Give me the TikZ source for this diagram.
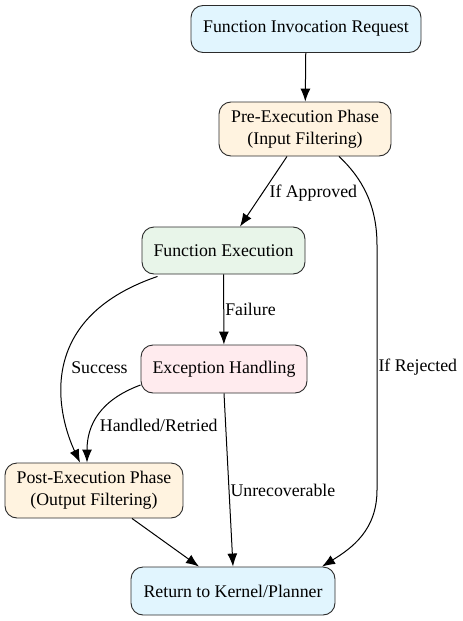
\documentclass[tikz,border=0pt]{standalone}
\usepackage{fontspec}
\setmainfont{Liberation Serif}
\usepackage{tikz}
\usetikzlibrary{arrows.meta, calc}

\definecolor{reqblue}{HTML}{E1F5FE}
\definecolor{phaseorange}{HTML}{FFF3E0}
\definecolor{execgreen}{HTML}{E8F5E9}
\definecolor{errpink}{HTML}{FFEBEE}
\definecolor{edgegray}{HTML}{2B2B2B}

\begin{document}
\begin{tikzpicture}[x=1pt, y=-1pt,
  stepbox/.style={draw=edgegray, line width=0.9pt, rounded corners=12pt, align=center, inner sep=0pt,
    font=\fontsize{17.8}{22}\selectfont},
  flow/.style={-{Latex[length=13pt, width=10pt]}, line width=1pt},
  lbl/.style={font=\fontsize{17.8}{20}\selectfont, inner sep=2pt}]
\useasboundingbox (0,0) rectangle (463,621);

% Nodes
\node[stepbox, fill=reqblue, minimum width=230, minimum height=47] (req) at (306,29) {Function Invocation Request};
\node[stepbox, fill=phaseorange, minimum width=172, minimum height=54] (pre) at (305,129) {Pre-Execution Phase\\(Input Filtering)};
\node[stepbox, fill=execgreen, minimum width=163, minimum height=47] (exec) at (223.5,250.5) {Function Execution};
\node[stepbox, fill=errpink, minimum width=166, minimum height=48] (exc) at (224,369) {Exception Handling};
\node[stepbox, fill=phaseorange, minimum width=178, minimum height=55] (post) at (94,490.5) {Post-Execution Phase\\(Output Filtering)};
\node[stepbox, fill=reqblue, minimum width=204, minimum height=48] (ret) at (233,591) {Return to Kernel/Planner};

% Draw edges
\draw[flow] (req) -- (pre);
\draw[flow] ($(pre.south)+(-18,0)$) -- ($(exec.north)+(16.5,0)$) node[lbl, pos=0.53, right=5pt]{If Approved};
\draw[flow] ($(pre.south)+(34,0)$) .. controls (362,178) and (377,205) .. (377,245)
  -- (377,490) node[lbl, midway, right, inner sep=1pt]{If Rejected}
  .. controls (377,530) and (352,548) .. ($(ret.north)+(89,0)$);
\draw[flow] (exec) -- (exc) node[lbl, midway, right, inner sep=1pt]{Failure};
\draw[flow] ($(exec.south)+(-66,2)$) .. controls (30,320) and (60,420) .. ($(post.north)+(-14,0)$)
  node[lbl, pos=0.49, right=5pt]{Success};
\draw[flow] ($(exc.west)+(0,16)$) .. controls (100,400) and (87,425) .. ($(post.north)+(-7,0)$)
  node[lbl, pos=0.62, right=4pt]{Handled/Retried};
\draw[flow] (exc.south) -- (ret.north) node[lbl, pos=0.56, right, inner sep=1pt]{Unrecoverable};
\draw[flow] ($(post.south)+(38,0)$) -- ($(ret.north)+(-34,0)$);

\end{tikzpicture}
\end{document}
